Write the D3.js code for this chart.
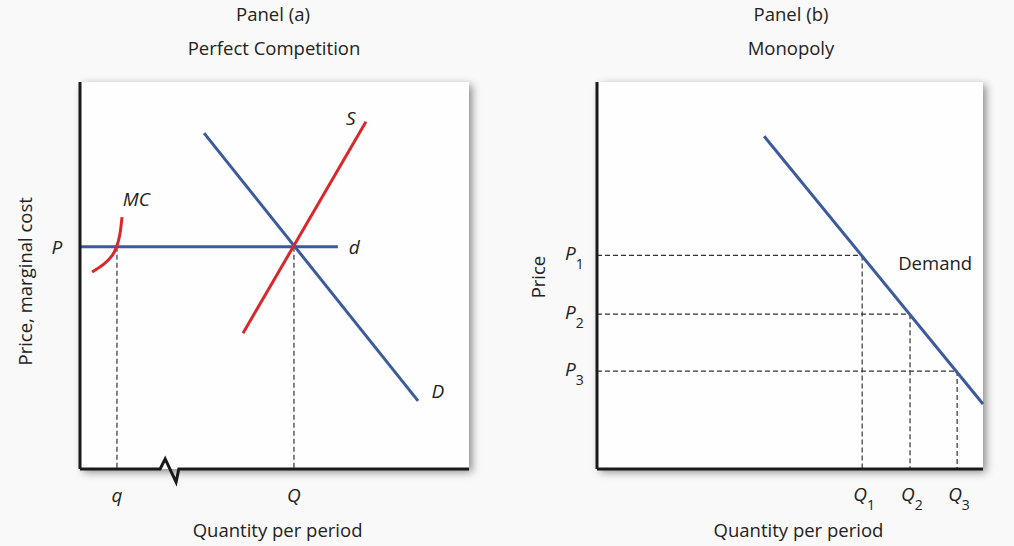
<!DOCTYPE html>
<html>
<head>
<meta charset="utf-8">
<script src="https://cdn.jsdelivr.net/npm/d3@7"></script>
<style>
  body { margin: 0; background: #f9f9f9; }
  text { font-family: "Open Sans", "Noto Sans", sans-serif; fill: #222; }
</style>
</head>
<body>
<svg id="svg" width="1014" height="546"></svg>
<script>
// Panel (a) - perfect competition, values on a 0..100 scale
const marketDemand = [[31.9, 86.8], [86.9, 17.6]];
const marketSupply = [[41.9, 35.1], [73.5, 89.7]];
const firmDemand = [[0, 57.4], [66.3, 57.4]];
const marginalCost = [[3.1, 50.9], [6.2, 53.0], [8.3, 55.2], [9.4, 57.4], [10.2, 60.4], [10.8, 65.1]];
const priceP = 57.4;
const qFirm = 9.5;
const qMarket = 55.0;
const axisBreak = [[0, 0], [20.6, 0], [21.9, 2.6], [24.7, -3.4], [25.4, 0], [100, 0]];

// Panel (b) - monopoly
const monoDemand = [[43.3, 86.0], [100, 16.8]];
const monoPrices = [55.2, 40.0, 25.3];
const monoQuantities = [68.7, 81.1, 93.3];
const priceLabels = ['P', 'P', 'P'];
const qtyLabels = ['Q', 'Q', 'Q'];
const subs = ['1', '2', '3'];

const blue = '#3d5a9c';
const red = '#d8282c';

const svg = d3.select('#svg');
const defs = svg.append('defs');
defs.append('filter')
    .attr('id', 'shadow')
    .attr('x', '-10%').attr('y', '-10%')
    .attr('width', '125%').attr('height', '125%')
    .append('feDropShadow')
    .attr('dx', 3).attr('dy', 3)
    .attr('stdDeviation', 4)
    .attr('flood-color', '#000')
    .attr('flood-opacity', 0.45);

function makePanel(left, right) {
    let x = d3.scaleLinear().domain([0, 100]).range([left, right]);
    let y = d3.scaleLinear().domain([0, 100]).range([469, 82]);
    let g = svg.append('g');
    g.append('rect')
        .attr('x', x(0)).attr('y', y(100))
        .attr('width', x(100) - x(0)).attr('height', y(0) - y(100))
        .style('fill', '#fefefe')
        .attr('filter', 'url(#shadow)');
    return {x, y, g};
}

function drawLine(p, pts, color, width, curve) {
    let line = d3.line()
        .x(d => p.x(d[0]))
        .y(d => p.y(d[1]));
    if (curve) line.curve(curve);
    p.g.append('path')
        .attr('d', line(pts))
        .style('fill', 'none')
        .style('stroke', color)
        .style('stroke-width', width);
}

function dashed(p, x1, y1, x2, y2) {
    p.g.append('line')
        .attr('x1', p.x(x1)).attr('y1', p.y(y1))
        .attr('x2', p.x(x2)).attr('y2', p.y(y2))
        .style('stroke', '#333')
        .style('stroke-width', 1.2)
        .style('stroke-dasharray', '5,3');
}

// x, y are the centre of the label
function label(x, y, txt, opts) {
    opts = opts || {};
    let t = svg.append('text')
        .attr('x', x).attr('y', y)
        .attr('dy', '0.35em')
        .attr('text-anchor', opts.anchor || 'middle')
        .style('font-size', (opts.size || 18.5) + 'px')
        .style('font-style', opts.italic ? 'italic' : 'normal')
        .text(txt);
    if (opts.rotate) t.attr('transform', `rotate(-90, ${x}, ${y})`);
    return t;
}

// ---------- Panel (a) ----------
const a = makePanel(80, 469);

dashed(a, qFirm, priceP, qFirm, 0);
dashed(a, qMarket, priceP, qMarket, 0);
drawLine(a, firmDemand, blue, 3);
drawLine(a, marketDemand, blue, 3);
drawLine(a, marketSupply, red, 3);
drawLine(a, marginalCost, red, 3, d3.curveCatmullRom);

// axes
drawLine(a, [[0, 0], [0, 100]], '#1a1a1a', 3);
drawLine(a, axisBreak, '#1a1a1a', 3);

label(273, 15, 'Panel (a)');
label(274, 49, 'Perfect Competition');
label(a.x(50.8), 531, 'Quantity per period');
label(26, a.y(48.5), 'Price, marginal cost', {rotate: true});
label(57, a.y(priceP), 'P', {italic: true, size: 19});
label(a.x(qFirm), 495, 'q', {italic: true, size: 19});
label(a.x(qMarket), 495, 'Q', {italic: true, size: 19});
label(a.x(14.5), a.y(69.8), 'MC', {italic: true, size: 19});
label(a.x(69.6), a.y(90.7), 'S', {italic: true, size: 19});
label(a.x(70.5), a.y(57.4), 'd', {italic: true, size: 19});
label(a.x(92.0), a.y(20.1), 'D', {italic: true, size: 19});

// ---------- Panel (b) ----------
const b = makePanel(597, 983);

monoPrices.forEach((pv, i) => {
    dashed(b, 0, pv, monoQuantities[i], pv);
    dashed(b, monoQuantities[i], pv, monoQuantities[i], 0);
});
drawLine(b, monoDemand, blue, 3);
drawLine(b, [[0, 0], [0, 100]], '#1a1a1a', 3);
drawLine(b, [[0, 0], [100, 0]], '#1a1a1a', 3);

label(791, 15, 'Panel (b)');
label(791, 49, 'Monopoly');
label(b.x(52.2), 531, 'Quantity per period');
label(539, b.y(49.6), 'Price', {rotate: true});
label(b.x(87.6), b.y(53.1), 'Demand');

monoPrices.forEach((pv, i) => {
    let t = label(565, b.y(pv) - 2, '', {italic: true, anchor: 'start', size: 19});
    t.append('tspan').text(priceLabels[i]);
    t.append('tspan').attr('dy', 9).style('font-size', '14px').style('font-style', 'normal').text(subs[i]);
});
monoQuantities.forEach((qv, i) => {
    let t = label(b.x(qv) - 9, 494, '', {italic: true, anchor: 'start', size: 19});
    t.append('tspan').text(qtyLabels[i]);
    t.append('tspan').attr('dy', 9).style('font-size', '14px').style('font-style', 'normal').text(subs[i]);
});
</script>
</body>
</html>
